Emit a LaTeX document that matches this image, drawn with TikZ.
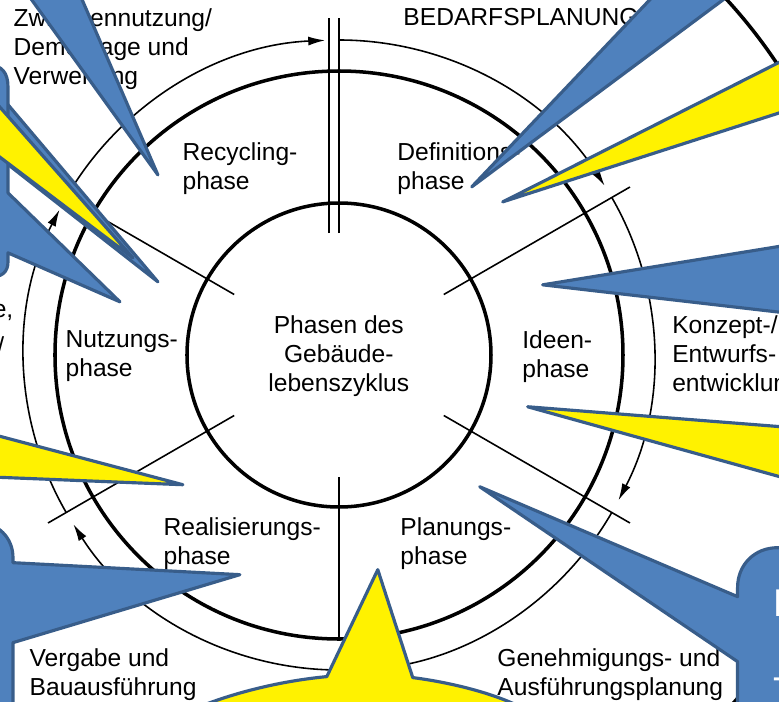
\documentclass[tikz,border=0pt]{standalone}
\usepackage{fontspec}
\setmainfont{Liberation Sans}
\usetikzlibrary{arrows.meta}
\definecolor{callblue}{HTML}{4F81BD}
\definecolor{calledge}{HTML}{385D8A}
\begin{document}
\begin{tikzpicture}[
  ring/.style={line width=1pt},
  thinline/.style={line width=0.45pt},
  lbl/.style={anchor=north west, inner sep=0pt, align=left, font=\fontsize{7}{8.3}\selectfont},
  bluecall/.style={fill=callblue, draw=calledge, line width=0.9pt, line join=round},
  yellowcall/.style={fill=yellow, draw=calledge, line width=0.9pt, line join=round}]
\useasboundingbox (-3.39,-3.46) rectangle (4.40,3.55);
\clip (-3.39,-3.46) rectangle (4.40,3.55);

% Ringe
\draw[ring] (0,0) circle (1.52);
\draw[ring] (0,0) circle (2.84);
\draw[ring] (0,0) circle (5.26);

% Trennlinien
\foreach \a in {30,150,210,330}
  \draw[thinline] (\a:1.21) -- (\a:3.36);
\draw[thinline] (-0.10,1.22) -- (-0.10,3.37);
\draw[thinline] (0,1.22) -- (0,3.37);
\draw[thinline] (0,-1.22) -- (0,-2.86);

% Pfeile im Uhrzeigersinn
\foreach \a in {150,90,30,-30,-90,-150}
  \draw[thinline,-{Latex[length=1.7mm,width=0.9mm]}] (\a:3.15) arc[start angle=\a, end angle=\a-57.5, radius=3.15];

\begin{scope}[shift={(-3.39,3.55)}, x=0.01cm, y=-0.01cm]
\node[lbl] (recycling) at (182,142) {Recycling-\\phase};
\node[lbl] (definition) at (397,142) {Definitions-\\phase};
\node[lbl] (ideen) at (522,330) {Ideen-\\phase};
\node[lbl] (nutzung) at (65,330) {Nutzungs-\\phase};
\node[lbl] (planung) at (400,517) {Planungs-\\phase};
\node[lbl] (realisierung) at (163,517) {Realisierungs-\\phase};
\node[lbl, anchor=north, align=center] (mitte) at (339,315) {Phasen des\\Gebäude-\\lebenszyklus};

\node[lbl] (zwischen) at (13,8) {Zwischennutzung/\\Demontage und\\Verwertung};
\node[lbl] (bedarf) at (403,8) {BEDARFSPLANUNG};
\node[lbl] (konzept) at (672,315) {Konzept-/\\Entwurfs-\\entwicklung};
\node[lbl] (genehm) at (497,648) {Genehmigungs- und\\Ausführungsplanung};
\node[lbl] (vergabe) at (29,648) {Vergabe und\\Bauausführung};
\node[lbl, anchor=north east, align=right] (rest) at (14,304) {e,};
\node[lbl, anchor=north east, align=right] (rest2) at (5,336) {/};

% Sprechblasen
\draw[bluecall] (158,175) -- (65,-40) -- (3,-40) -- cycle;
\draw[bluecall] (158,282) -- (-40,48) -- (-40,127) -- cycle;
\draw[bluecall] (-40,65) -- (-12,65) .. controls (2,65) and (8,73) .. (8,87) -- (8,193) -- (120,302) -- (8,253)
  -- (8,262) .. controls (8,272) and (2,277) .. (-8,277) -- (-40,277) -- cycle;
\draw[yellowcall] (133,258) -- (-40,62) -- (-40,127) -- cycle;
\draw[yellowcall] (183,485) -- (-40,426) -- (-40,476) -- cycle;
\draw[bluecall] (-40,523) -- (-22,523) .. controls (-2,523) and (13,538) .. (13,558) -- (13,563) -- (240,575)
  -- (13,643) -- (13,740) -- (-40,740) -- cycle;

\draw[bluecall] (472,187) -- (688,-40) -- (777,-40) -- cycle;
\draw[yellowcall] (503,202) -- (820,42) -- (820,100) -- cycle;
\draw[bluecall] (543,285) -- (820,240) -- (820,317) -- cycle;
\draw[yellowcall] (528,407) -- (820,430) -- (820,488) -- cycle;
\draw[bluecall] (738,740) -- (738,662) -- (480,487) -- (738,597) -- (738,588) .. controls (738,565) and (755,548) .. (778,548)
  -- (820,548) -- (820,740) -- cycle;
\node[lbl, text=white, font=\fontsize{11}{25}\selectfont] (blasetext) at (773,590) {B\\T};

\draw[yellowcall] (190,740) -- (205,705) .. controls (250,688) and (295,680) .. (327,677) -- (378,570) -- (413,678)
  .. controls (445,682) and (490,692) .. (520,707) -- (530,740) -- cycle;
\end{scope}
\end{tikzpicture}
\end{document}
